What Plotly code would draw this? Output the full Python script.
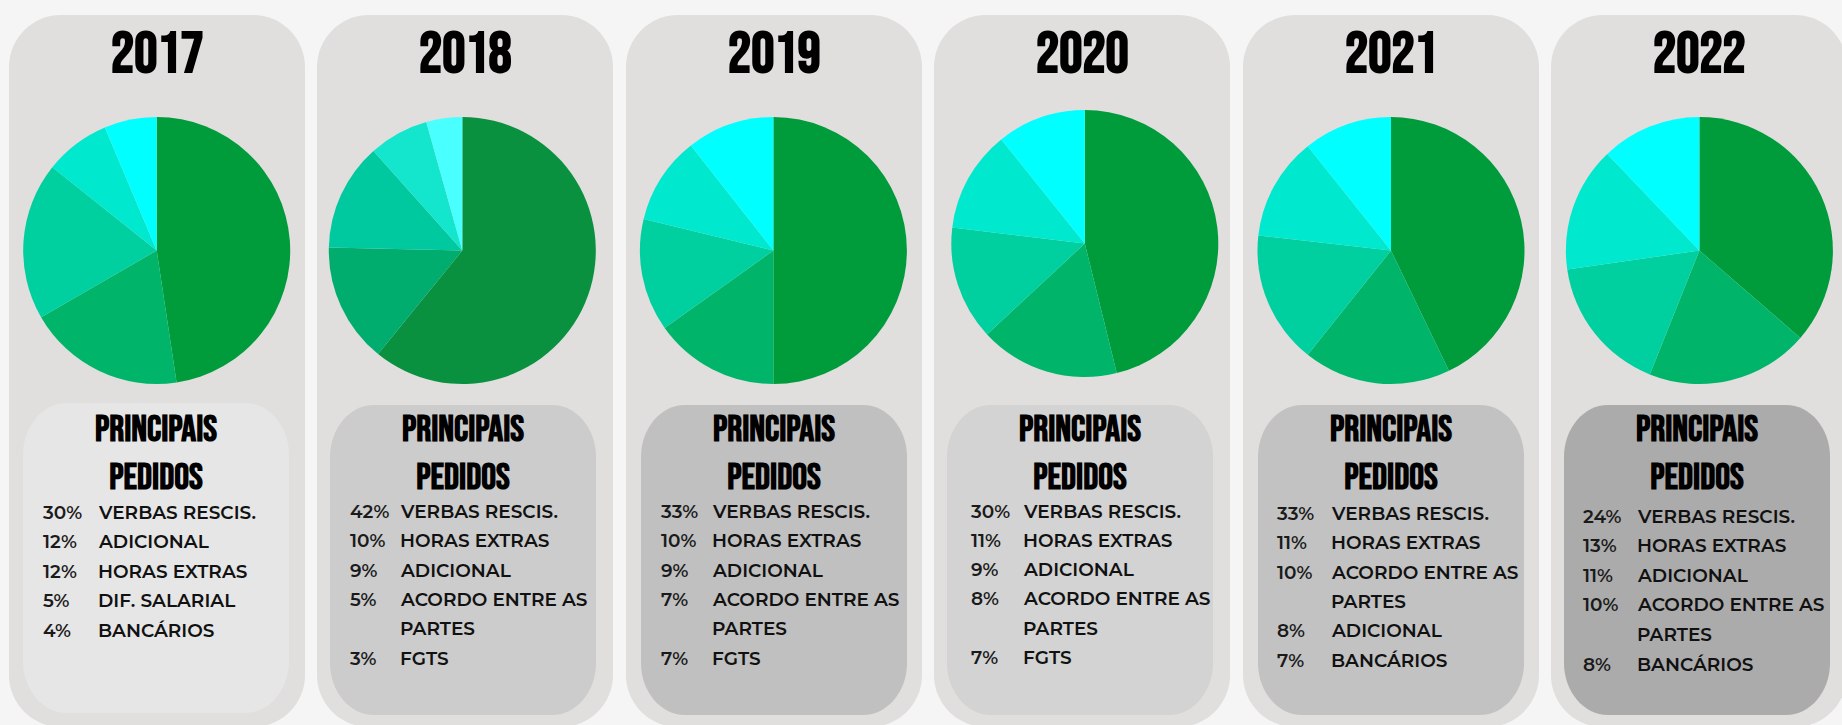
import plotly.graph_objects as go

# ---------------- data ----------------
years = ["2017", "2018", "2019", "2020", "2021", "2022"]

pct_2017 = [30, 12, 12, 5, 4]
lab_2017 = ["VERBAS RESCIS.", "ADICIONAL", "HORAS EXTRAS", "DIF. SALARIAL", "BANCÁRIOS"]

pct_2018 = [42, 10, 9, 5, 3]
lab_2018 = ["VERBAS RESCIS.", "HORAS EXTRAS", "ADICIONAL", "ACORDO ENTRE AS PARTES", "FGTS"]

pct_2019 = [33, 10, 9, 7, 7]
lab_2019 = ["VERBAS RESCIS.", "HORAS EXTRAS", "ADICIONAL", "ACORDO ENTRE AS PARTES", "FGTS"]

pct_2020 = [30, 11, 9, 8, 7]
lab_2020 = ["VERBAS RESCIS.", "HORAS EXTRAS", "ADICIONAL", "ACORDO ENTRE AS PARTES", "FGTS"]

pct_2021 = [33, 11, 10, 8, 7]
lab_2021 = ["VERBAS RESCIS.", "HORAS EXTRAS", "ACORDO ENTRE AS PARTES", "ADICIONAL", "BANCÁRIOS"]
pie_2021 = [24, 10, 9, 7, 6]   # slice sizes as drawn in the 2021 pie

pct_2022 = [24, 13, 11, 10, 8]
lab_2022 = ["VERBAS RESCIS.", "HORAS EXTRAS", "ADICIONAL", "ACORDO ENTRE AS PARTES", "BANCÁRIOS"]

pct_all = [pct_2017, pct_2018, pct_2019, pct_2020, pct_2021, pct_2022]
lab_all = [lab_2017, lab_2018, lab_2019, lab_2020, lab_2021, lab_2022]
pie_all = [pct_2017, pct_2018, pct_2019, pct_2020, pie_2021, pct_2022]

# ---------------- styles / layout ----------------
W, H = 1842, 725
PAGE_BG = "#F5F5F5"
PANEL_BG = "#E0DFDD"
inner_bg = ["#E6E6E6", "#CCCCCC", "#C0C0C0", "#D3D3D3", "#C2C2C2", "#ABABAB"]
green_std = ["#009B3A", "#00B56A", "#00CFA0", "#00E8CE", "#00FFFF"]
green_2018 = ["#0A913F", "#00AC6E", "#00C9A0", "#14E6CE", "#4AFFFF"]
pie_colors = [green_std, green_2018, green_std, green_std, green_std, green_std]

panel_left = [9, 317, 626, 934, 1243, 1551]
panel_w = 296
inner_left = [23, 330, 641, 947, 1258, 1564]
inner_w = 266
inner_top = [403, 405, 405, 405, 405, 405]
pie_cx = [156.7, 462.3, 773.4, 1084.8, 1391, 1699.4]
pie_cy = [250.5, 250.5, 250.5, 243.5, 250.5, 250.5]
pie_d = 267
pct_off = [18, 18, 17.5, 22, 17, 17]
lab_off = [73, 68, 69, 74, 71, 71]
row_start = [512, 511.5, 511.5, 511, 513.5, 516]
row_step = [29.6, 29.3, 29.3, 29.3, 29.3, 29.6]

TITLE_FONT = "Bebas Neue, Oswald, Roboto Condensed, Liberation Sans Narrow, Arial Narrow, Roboto, sans-serif"
BODY_FONT = "Montserrat, DejaVu Sans, Verdana, sans-serif"


def rounded_rect(x0, y0, x1, y1, rx, ry):
    k = 0.5523
    return (
        f"M{x0+rx},{y0} L{x1-rx},{y0} "
        f"C{x1-rx+k*rx},{y0} {x1},{y0+ry-k*ry} {x1},{y0+ry} "
        f"L{x1},{y1-ry} "
        f"C{x1},{y1-ry+k*ry} {x1-rx+k*rx},{y1} {x1-rx},{y1} "
        f"L{x0+rx},{y1} "
        f"C{x0+rx-k*rx},{y1} {x0},{y1-ry+k*ry} {x0},{y1-ry} "
        f"L{x0},{y0+ry} "
        f"C{x0},{y0+ry-k*ry} {x0+rx-k*rx},{y0} {x0+rx},{y0} Z"
    )


def wrap(label, limit=16):
    if len(label) <= limit:
        return [label]
    cut = label.rfind(" ", 0, limit)
    return [label[:cut], label[cut + 1:]]


fig = go.Figure()
# invisible trace to establish a pixel-like cartesian frame for decorations
fig.add_trace(go.Scatter(x=[None], y=[None], showlegend=False, hoverinfo="skip"))

shapes = []
annotations = []

for i, yr in enumerate(years):
    # outer panel
    shapes.append(dict(type="path", xref="x", yref="y", layer="below",
                       path=rounded_rect(panel_left[i], 15, panel_left[i] + panel_w, 727, 52, 52),
                       fillcolor=PANEL_BG, line=dict(width=0)))
    # inner box
    shapes.append(dict(type="path", xref="x", yref="y", layer="below",
                       path=rounded_rect(inner_left[i], inner_top[i], inner_left[i] + inner_w,
                                         inner_top[i] + 310, 44, 52),
                       fillcolor=inner_bg[i], line=dict(width=0)))
    cx_panel = panel_left[i] + panel_w / 2
    cx_inner = inner_left[i] + inner_w / 2

    # year title
    annotations.append(dict(x=cx_panel, y=54, xref="x", yref="y", text=f"<b>{yr}</b>",
                            showarrow=False, xanchor="center", yanchor="middle",
                            font=dict(family=TITLE_FONT, size=58, color="#000000")))
    # box title
    annotations.append(dict(x=cx_inner, y=454, xref="x", yref="y",
                            text="<b>PRINCIPAIS<br>PEDIDOS</b>",
                            showarrow=False, xanchor="center", yanchor="middle", align="center",
                            font=dict(family=TITLE_FONT, size=37, color="#000000")))

    # list rows
    row = 0
    for p, lab in zip(pct_all[i], lab_all[i]):
        y = row_start[i] + row * row_step[i]
        annotations.append(dict(x=inner_left[i] + pct_off[i], y=y, xref="x", yref="y",
                                text=f"{p}%", showarrow=False,
                                xanchor="left", yanchor="middle",
                                font=dict(family=BODY_FONT, size=18.5, weight=600, color="#1a1a1a")))
        for line in wrap(lab):
            y = row_start[i] + row * row_step[i]
            annotations.append(dict(x=inner_left[i] + lab_off[i], y=y, xref="x", yref="y",
                                    text=line, showarrow=False,
                                    xanchor="left", yanchor="middle",
                                    font=dict(family=BODY_FONT, size=18.5, weight=600, color="#111111")))
            row += 1

    # pie
    r = pie_d / 2
    fig.add_trace(go.Pie(
        values=pie_all[i], labels=lab_all[i], sort=False, direction="clockwise", rotation=0,
        marker=dict(colors=pie_colors[i], line=dict(width=0)),
        textinfo="none", hoverinfo="label+percent", showlegend=False, name=yr,
        domain=dict(x=[(pie_cx[i] - r) / W, (pie_cx[i] + r) / W],
                    y=[1 - (pie_cy[i] + r) / H, 1 - (pie_cy[i] - r) / H]),
    ))

fig.update_layout(
    width=W, height=H, autosize=False,
    margin=dict(l=0, r=0, t=0, b=0, pad=0),
    paper_bgcolor=PAGE_BG, plot_bgcolor="rgba(0,0,0,0)",
    xaxis=dict(range=[0, W], visible=False, fixedrange=True, domain=[0, 1]),
    yaxis=dict(range=[H, 0], visible=False, fixedrange=True, domain=[0, 1]),
    shapes=shapes, annotations=annotations, showlegend=False,
)

fig.write_html(
    "out.html",
    config={"displayModeBar": False},
    post_script="document.body.style.margin='0';document.body.style.background='#F5F5F5';",
)
